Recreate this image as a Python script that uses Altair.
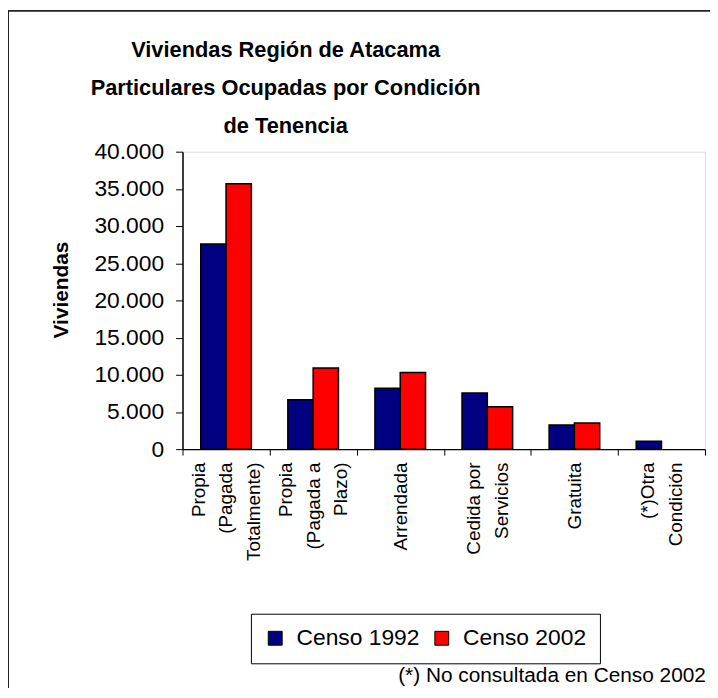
import altair as alt
import pandas as pd

# ---- data ----
categories = [
    "Propia\n(Pagada\nTotalmente)",
    "Propia\n(Pagada a\nPlazo)",
    "Arrendada",
    "Cedida por\nServicios",
    "Gratuita",
    "(*)Otra\nCondición",
]
censo_1992 = [27600, 6650, 8200, 7550, 3250, 1050]
censo_2002 = [35700, 10900, 10300, 5700, 3500, None]
series = ["Censo 1992", "Censo 2002"]
colors = ["#000080", "#FF0000"]
y_ticks = [0, 5000, 10000, 15000, 20000, 25000, 30000, 35000, 40000]
title_lines = [
    "Viviendas Región de Atacama",
    "Particulares Ocupadas por Condición",
    "de Tenencia",
]
footnote = "(*) No consultada en Censo 2002"

rows = []
for cat, v92, v02 in zip(categories, censo_1992, censo_2002):
    if v92 is not None:
        rows.append({"categoria": cat, "serie": series[0], "valor": v92})
    if v02 is not None:
        rows.append({"categoria": cat, "serie": series[1], "valor": v02})
df = pd.DataFrame(rows)

FONT = "Liberation Sans"
one_row = alt.Data(values=[{}])

frame = alt.Chart(one_row).mark_rect(
    filled=False, stroke="#222222", strokeWidth=2
).encode(
    x=alt.value(-176), x2=alt.value(560), y=alt.value(-142), y2=alt.value(620)
)

title = alt.Chart(one_row).mark_text(
    font=FONT, fontSize=22, fontWeight="bold",
    lineHeight=38, align="center", baseline="alphabetic", color="black"
).encode(
    x=alt.value(104), y=alt.value(-95), text=alt.value(title_lines)
)

nlines = "length(split(datum.label, '\\n'))"

bars = alt.Chart(df).mark_bar(stroke="black", strokeWidth=1.5).encode(
    x=alt.X(
        "categoria:N",
        sort=categories,
        scale=alt.Scale(paddingInner=0, paddingOuter=0),
        axis=alt.Axis(
            title=footnote,
            titleX=217,
            titleY=234,
            titleAlign="left",
            titleAngle=0,
            titleBaseline="alphabetic",
            titleFont=FONT,
            titleFontSize=21,
            titleFontWeight="normal",
            titleColor="black",
            labelAngle=270,
            labelAlign="right",
            labelBaseline="middle",
            labelFont=FONT,
            labelFontSize=19,
            labelLineHeight=28,
            labelColor="black",
            labelExpr="split(datum.label, '\\n')",
            labelOffset={
                "condition": [
                    {"test": nlines + " == 3", "value": -28},
                    {"test": nlines + " == 2", "value": -14},
                ],
                "value": 0,
            },
            labelPadding=7,
            tickBand="extent",
            tickSize=6,
            tickColor="black",
            domainColor="black",
            domainWidth=1.5,
            grid=False,
        ),
    ),
    xOffset=alt.XOffset(
        "serie:N",
        sort=series,
        scale=alt.Scale(domain=series, paddingInner=0, paddingOuter=0.72),
    ),
    y=alt.Y(
        "valor:Q",
        scale=alt.Scale(domain=[0, 40000], nice=False),
        axis=alt.Axis(
            values=y_ticks,
            labelExpr="replace(format(datum.value, ','), ',', '.')",
            labelFont=FONT,
            labelFontSize=23,
            labelColor="black",
            labelPadding=12,
            tickSize=7,
            tickColor="black",
            domainColor="black",
            domainWidth=1.5,
            grid=False,
            title="Viviendas",
            titleFont=FONT,
            titleFontSize=21,
            titleFontWeight="bold",
            titleColor="black",
            titleAngle=270,
            titleX=-122,
            titleY=139,
            titleAlign="center",
            titleBaseline="middle",
        ),
    ),
    color=alt.Color(
        "serie:N",
        scale=alt.Scale(domain=series, range=colors),
        legend=alt.Legend(
            orient="none",
            legendX=69,
            legendY=466,
            direction="horizontal",
            title=None,
            strokeColor="black",
            fillColor="white",
            padding=13,
            symbolType="square",
            symbolSize=196,
            symbolStrokeColor="black",
            symbolStrokeWidth=1,
            labelFont=FONT,
            labelFontSize=23,
            labelColor="black",
            labelOffset=10,
            columnPadding=10,
        ),
    ),
)

chart = alt.layer(frame, title, bars).properties(
    width=527,
    height=300,
    autosize=alt.AutoSizeParams(type="none"),
    padding={"left": 176, "top": 142, "right": 5, "bottom": 238},
).configure_view(
    fill="#FAEDD7", stroke="#808080", strokeWidth=1.5
).configure(background="white")

chart.save("out.html", embed_options={"renderer": "svg", "actions": False})
